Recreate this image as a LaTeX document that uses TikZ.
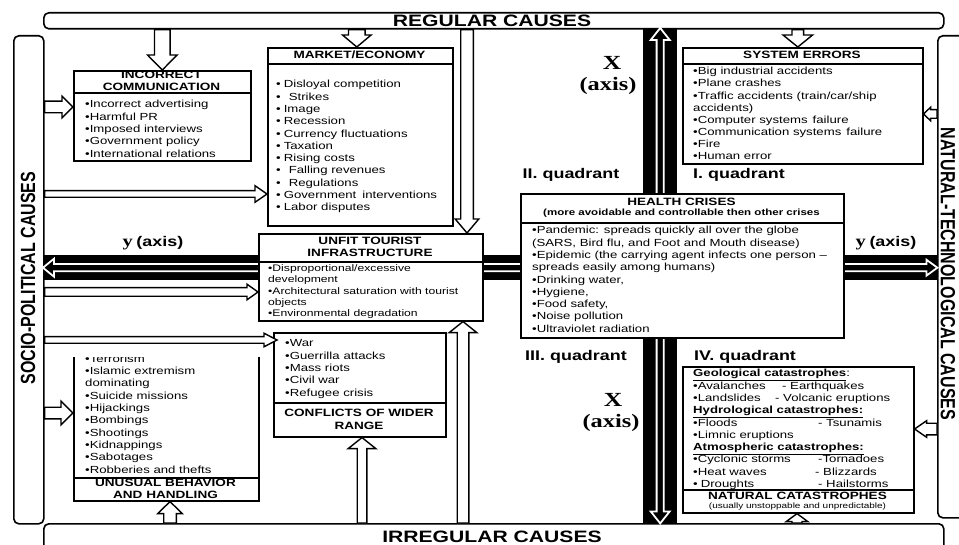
\documentclass[tikz,border=0pt]{standalone}
\usepackage{fontspec}
\usepackage{graphicx}
\setmainfont{Liberation Sans}[FakeStretch=1.28]
\newfontfamily\axisfont{Liberation Serif}[FakeStretch=1.28]
\newfontfamily\sidefont{Liberation Sans}
\usetikzlibrary{calc}

% outlined block arrow: {shaft half-width}{head half-width}{head length}
\tikzset{
  fat/.style n args={3}{to path={
    ($(\tikztostart)!#1!90:(\tikztotarget)$)
    -- ($(\tikztotarget)!#3!(\tikztostart)!#1!-90:(\tikztostart)$)
    -- ($(\tikztotarget)!#3!(\tikztostart)!#2!-90:(\tikztostart)$)
    -- (\tikztotarget)
    -- ($(\tikztotarget)!#3!(\tikztostart)!#2!90:(\tikztostart)$)
    -- ($(\tikztotarget)!#3!(\tikztostart)!#1!90:(\tikztostart)$)
    -- ($(\tikztostart)!#1!-90:(\tikztotarget)$)
    -- cycle}},
  bigarrow/.style n args={3}{draw=black, fill=white, line width=1.4pt, line join=miter, fat={#1}{#2}{#3}},
  axisarrow/.style n args={3}{draw=white, fill=black, line width=1.8pt, line join=miter, fat={#1}{#2}{#3}},
}

\begin{document}
\begin{tikzpicture}[x=1pt,y=-1pt,
  every node/.style={inner sep=0pt},
  bar/.style={draw, line width=1.6pt, rounded corners=5pt, fill=white, anchor=north west},
  band/.style={fill=black, anchor=north west},
  box/.style={draw, line width=1.6pt, fill=white, anchor=north west},
  items/.style={anchor=north west, align=left, font=\fontsize{10.3}{12.3}\selectfont},
  head/.style={align=center, font=\fontsize{10.6}{12}\selectfont\bfseries},
  quad/.style={font=\fontsize{14}{16}\selectfont\bfseries},
]
\useasboundingbox (0,0) rectangle (959,545);

% black axis bands
\node[band, minimum width=34pt, minimum height=495pt] (vax) at (643,28) {};
\node[band, minimum width=894pt, minimum height=25pt] (hax) at (43,255) {};

% frame of cause groups
\node[bar, minimum width=900pt, minimum height=16pt] (top) at (43,12) {};
\node[font=\fontsize{16.5}{18}\selectfont\bfseries] (toplab) at (492,20.5) {REGULAR CAUSES};
\node[bar, minimum width=900pt, minimum height=30pt] (bbar) at (43,523) {};
\node[font=\fontsize{16.5}{18}\selectfont\bfseries] (botlab) at (492,537) {IRREGULAR CAUSES};
\node[bar, minimum width=30pt, minimum height=488pt] (lbar) at (13,35) {};
\node[rotate=90] (leftlab) at (28,278) {\scalebox{1}[1.28]{\sidefont\bfseries\fontsize{16}{18}\selectfont SOCIO-POLITICAL CAUSES}};
\node[bar, minimum width=40pt, minimum height=482pt] (rbar) at (937,35) {};
\node[rotate=-90] (rightlab) at (948,274) {\scalebox{1}[1.28]{\sidefont\bfseries\fontsize{16}{18}\selectfont NATURAL-TECHNOLOGICAL CAUSES}};

% health crises sits on the crossing of the axes
\node[box, minimum width=323pt, minimum height=29pt] (hlthH) at (520,193) {};
\node[box, minimum width=323pt, minimum height=115pt] (hlthB) at (520,222) {};
\coordinate (cross) at (hlthB.center |- hax.center);

% two-way axis arrows, starting under the health box
\draw[axisarrow={3.6pt}{9pt}{11pt}] (cross) to (hax.west);
\draw[axisarrow={3.6pt}{8pt}{11pt}] (cross) to (hax.east);
\draw[axisarrow={3.6pt}{9.5pt}{12pt}] (cross -| vax.center) to (vax.north);
\draw[axisarrow={3.6pt}{9.5pt}{12pt}] (cross -| vax.center) to (vax.south);

% redraw the health box over the axes
\node[box, minimum width=323pt, minimum height=29pt] (hlthH2) at (520,193) {};
\node[box, minimum width=323pt, minimum height=115pt] (hlthB2) at (520,222) {};
\node[head] (hlthT) at (681.5,202) {HEALTH CRISES};
\node[font=\fontsize{9}{10}\selectfont\bfseries] (hlthS) at (681.5,213.5) {(more avoidable and controllable then other crises};
\node[items] (hlthL) at (532,225) {\strut•Pandemic: spreads quickly all over the globe\\(SARS, Bird flu, and Foot and Mouth disease)\\•Epidemic (the carrying agent infects one person –\\spreads easily among humans)\\•Drinking water,\\•Hygiene,\\•Food safety,\\•Noise pollution\\•Ultraviolet radiation};

% incorrect communication
\node[box, minimum width=177pt, minimum height=22pt] (incH) at (73,70) {};
\node[box, minimum width=177pt, minimum height=68pt] (incB) at (73,92) {};
\node[head] (incT) at (161.5,81) {INCORRECT\\COMMUNICATION};
\node[items] (incL) at (85,99) {\strut•Incorrect advertising\\•Harmful PR\\•Imposed interviews\\•Government policy\\•International relations};

% market / economy
\node[box, minimum width=185pt, minimum height=16pt] (mktH) at (267,47) {};
\node[box, minimum width=185pt, minimum height=162pt] (mktB) at (267,63) {};
\node[head] (mktT) at (359.5,55) {MARKET/ECONOMY};
\node[items] (mktL) at (276,79) {\strut•\hspace{3pt}Disloyal competition\\•\hspace{8pt}Strikes\\•\hspace{3pt}Image\\•\hspace{3pt}Recession\\•\hspace{3pt}Currency fluctuations\\•\hspace{3pt}Taxation\\•\hspace{3pt}Rising costs\\•\hspace{8pt}Falling revenues\\•\hspace{8pt}Regulations\\•\hspace{3pt}Government\hspace{6pt}interventions\\•\hspace{3pt}Labor disputes};

% unfit tourist infrastructure
\node[box, minimum width=224pt, minimum height=28pt] (unfH) at (258,233) {};
\node[box, minimum width=224pt, minimum height=59pt] (unfB) at (258,261) {};
\node[head] (unfT) at (370,247) {UNFIT TOURIST\\INFRASTRUCTURE};
\node[items, font=\fontsize{9.5}{11.2}\selectfont] (unfL) at (268,263.6) {\strut•Disproportional/excessive\\development\\•Architectural saturation with tourist\\objects\\•Environmental degradation};

% system errors
\node[box, minimum width=240pt, minimum height=16pt] (sysH) at (682,47) {};
\node[box, minimum width=240pt, minimum height=100pt] (sysB) at (682,63) {};
\node[head] (sysT) at (802,55) {SYSTEM ERRORS};
\node[items, font=\fontsize{10.3}{12.15}\selectfont] (sysL) at (693,66) {\strut•Big industrial accidents\\•Plane crashes\\•Traffic accidents (train/car/ship\\accidents)\\•Computer systems\hspace{5pt}failure\\•Communication systems\hspace{5pt}failure\\•Fire\\•Human error};

% unusual behavior and handling (its top edge hidden)
\begin{scope}
  \clip (60,358) rectangle (270,480);
  \node[box, minimum width=185pt, minimum height=132pt] (unuB) at (73,345) {};
  \node[items] (unuL) at (85,353.5) {\strut•Terrorism\\•Islamic extremism\\dominating\\•Suicide missions\\•Hijackings\\•Bombings\\•Shootings\\•Kidnappings\\•Sabotages\\•Robberies and thefts};
\end{scope}
\node[box, minimum width=185pt, minimum height=23pt] (unuF) at (73,477) {};
\node[head] (unuT) at (165.5,489) {UNUSUAL BEHAVIOR\\AND HANDLING};

% conflicts of wider range
\node[box, minimum width=172pt, minimum height=70pt] (cnfB) at (273,332) {};
\node[box, minimum width=172pt, minimum height=34pt] (cnfF) at (273,402) {};
\node[items] (cnfL) at (285,338) {\strut•War\\•Guerrilla\hspace{4pt}attacks\\•Mass riots\\•Civil war\\•Refugee crisis};
\node[head, font=\fontsize{10.6}{13}\selectfont\bfseries] (cnfT) at (359,419.5) {CONFLICTS OF WIDER\\RANGE};

% natural catastrophes
\node[box, minimum width=231pt, minimum height=123pt] (natB) at (682,366) {};
\node[items] (natL) at (693,368) {\strut\textbf{\underline{Geological catastrophes}}:\\
\makebox[89pt][l]{•Avalanches}- Earthquakes\\
\makebox[82pt][l]{•Landslides}- Volcanic eruptions\\
\textbf{\underline{Hydrological catastrophes:}}\\
\makebox[125pt][l]{•Floods}- Tsunamis\\
•Limnic eruptions\\
\textbf{\underline{Atmospheric catastrophes:}}\\
\makebox[125pt][l]{•Cyclonic storms}-Tornadoes\\
\makebox[122pt][l]{•Heat waves}- Blizzards\\
\makebox[125pt][l]{•\hspace{3pt}Droughts}- Hailstorms};
\node[box, minimum width=231pt, minimum height=23pt] (natF) at (682,489) {};
\node[head] (natT) at (797.5,495.5) {NATURAL CATASTROPHES};
\node[font=\fontsize{7.8}{9}\selectfont] (natS) at (797.5,506) {(usually unstoppable and unpredictable)};

% quadrant and axis labels
\node[quad] (q2) at (571,175) {II. quadrant};
\node[quad] (q1) at (739,175) {I. quadrant};
\node[quad] (q3) at (576,357) {III. quadrant};
\node[quad] (q4) at (745,357) {IV. quadrant};
\node[font=\axisfont\bfseries\fontsize{20}{22}\selectfont] (xt) at (612,63) {X};
\node[font=\axisfont\bfseries\fontsize{19}{21}\selectfont] (xta) at (608,86) {(axis)};
\node[font=\axisfont\bfseries\fontsize{20}{22}\selectfont] (xb) at (613,400) {X};
\node[font=\axisfont\bfseries\fontsize{19}{21}\selectfont] (xba) at (611,423) {(axis)};
\node (yl) at (153,243) {{\axisfont\bfseries\fontsize{16}{18}\selectfont y} {\bfseries\fontsize{14}{16}\selectfont (axis)}};
\node (yr) at (886,243) {{\axisfont\bfseries\fontsize{16}{18}\selectfont y} {\bfseries\fontsize{14}{16}\selectfont (axis)}};

% regular causes feeding the boxes
\draw[bigarrow={7.8pt}{14.8pt}{15pt}] (incH.north |- top.south) to (incH.north);
\draw[bigarrow={8.3pt}{14.3pt}{12pt}] ([xshift=-3.5pt]mktH.north |- top.south) to ([xshift=-3.5pt]mktH.north);
\draw[bigarrow={5.8pt}{14.8pt}{12pt}] ([xshift=-5pt]sysH.north |- top.south) to ([xshift=-5pt]sysH.north);
\draw[bigarrow={6.3pt}{11.8pt}{14pt}] (top.south -| 467,0) to (unfH.north -| 467,0);

% socio-political causes
\draw[bigarrow={5.8pt}{10.8pt}{11pt}] (lbar.east |- 0,107) to (incB.west |- 0,107);
\draw[bigarrow={3.3pt}{8.3pt}{12pt}] (lbar.east |- 0,194) to (mktB.west |- 0,194);
\draw[bigarrow={4.3pt}{7.8pt}{11pt}] (lbar.east |- 0,292) to (unfB.west |- 0,292);
\draw[bigarrow={3.3pt}{6.8pt}{13pt}] (lbar.east |- 0,340) to ([xshift=4pt]cnfB.west |- 0,340);
\draw[bigarrow={5.8pt}{11.8pt}{12pt}] (lbar.east |- 0,413) to (unuB.west |- 0,413);

% irregular causes
\draw[bigarrow={6.3pt}{12.3pt}{12pt}] (bbar.north -| 170,0) to (unuF.south -| 170,0);
\draw[bigarrow={4.8pt}{13.8pt}{11pt}] (bbar.north -| 362,0) to (cnfF.south -| 362,0);
\draw[bigarrow={5.8pt}{13.8pt}{11pt}] (bbar.north -| 463,0) to (unfB.south -| 463,0);
\draw[bigarrow={5pt}{10.8pt}{8pt}] (bbar.north -| 797,0) to (natF.south -| 797,0);

% natural-technological causes
\draw[bigarrow={4.3pt}{6.8pt}{7pt}] (rbar.west |- 0,114) to (sysB.east |- 0,114);
\draw[bigarrow={5.8pt}{8.3pt}{12pt}] (rbar.west |- 0,429) to (natB.east |- 0,429);
\end{tikzpicture}
\end{document}
